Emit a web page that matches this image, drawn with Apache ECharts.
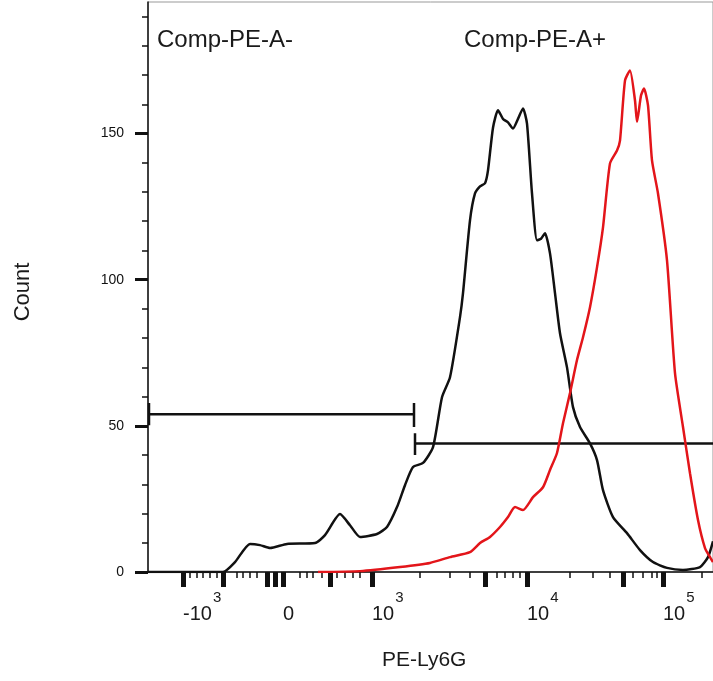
<!DOCTYPE html>
<html>
<head>
<meta charset="utf-8">
<script src="https://cdn.jsdelivr.net/npm/echarts@6/dist/echarts.min.js"></script>
<style>
  html, body { margin: 0; padding: 0; background: #fff; }
  #chart { width: 713px; height: 681px; }
</style>
</head>
<body>
<div id="chart"></div>
<script>
  // histogram, x in display channels of the biexponential PE axis, y = count
  const blackX = [0, 52, 75, 87, 102, 112, 122, 139, 167, 177, 192, 202, 212, 229, 239, 249, 257, 265, 275, 285,
    294, 302, 312, 315, 322, 327, 332, 337, 340, 345, 350, 355, 360, 365, 370, 375, 379, 384, 389, 393, 397, 402,
    407, 412, 419, 425, 432, 442, 449, 455, 465, 479, 492, 505, 519, 535, 552, 560, 565];
  const blackY = [0, 0, 0, 3.4, 9.6, 9.2, 8.2, 9.6, 9.9, 12.6, 19.8, 16, 12, 13, 15.4, 22.2, 29.7, 35.9, 37.3, 42.7,
    59.8, 66.6, 87.2, 95.4, 120.3, 129.5, 131.9, 133, 137.4, 152, 158, 155, 153.8, 151.7, 155, 158.6, 153.4, 129.5,
    113.5, 114, 115.9, 109, 95.4, 81.7, 70, 56.4, 49.6, 44, 38.3, 28, 18.8, 13.3, 7.5, 3.4, 1.4, 0.7, 1.7, 5.1, 10.5];

  const redX = [170, 212, 252, 282, 302, 322, 332, 342, 352, 360, 367, 375, 385, 395, 402, 409, 415, 422, 429, 435,
    442, 449, 455, 462, 469, 472, 477, 482, 487, 489, 493, 496, 500, 504, 510, 519, 527, 535, 542, 550, 557, 562, 565];
  const redY = [0, 0.3, 1.7, 3.1, 5.1, 6.8, 9.9, 12, 15.4, 18.8, 22.2, 21.2, 25.6, 29, 34.9, 40.7, 50.9, 61.2, 72.5,
    80.3, 90.6, 104.2, 117.9, 139.8, 144.2, 147.6, 168.1, 171.6, 161.3, 154, 163, 165.4, 159.6, 140.8, 129.5, 106.6,
    68, 49.6, 33.8, 17.8, 8.2, 5.1, 3.4];

  // gates: [xStart, xEnd, level]
  const gateNeg = [1, 266, 54];
  const gatePos = [267, 565, 44];

  // x axis ticks (channels)
  const xLabelTicks = [35, 135, 224, 379, 515];
  const xLabelTexts = ['-10|3', '0', '10|3', '10|4', '10|5'];
  const xMajorTicks = [35, 75, 119, 127, 135, 182, 224, 337, 379, 475, 515];
  const xMinorTicks = [42, 49, 55, 62, 69, 89, 95, 102, 109, 152, 159, 165, 174, 189, 197, 205, 212,
    272, 302, 322, 349, 357, 365, 372, 422, 445, 462, 485, 495, 504, 509, 554];

  // y axis ticks (counts)
  const yMajorTicks = [0, 50, 100, 150];
  const yMinorTicks = [10, 20, 30, 40, 60, 70, 80, 90, 110, 120, 130, 140, 160, 170, 180, 190];

  const pairs = (xs, ys) => xs.map((x, i) => [x, ys[i]]);

  function gateSeries(g, capLeft, capRight) {
    const list = [];
    const seg = (pts) => ({
      type: 'line', data: pts, symbol: 'none', silent: true,
      lineStyle: { color: '#111', width: 2.5 }
    });
    list.push(seg([[g[0], g[2]], [g[1], g[2]]]));
    if (capLeft) list.push(seg([[g[0], capLeft[0]], [g[0], capLeft[1]]]));
    if (capRight) list.push(seg([[g[1], capRight[0]], [g[1], capRight[1]]]));
    return list;
  }

  const chart = echarts.init(document.getElementById('chart'));

  const baseX = {
    type: 'value',
    min: 0,
    max: 565,
    position: 'bottom',
    splitLine: { show: false }
  };
  const baseY = {
    type: 'value',
    min: 0,
    max: 195,
    position: 'left',
    splitLine: { show: false }
  };

  chart.setOption({
    animation: false,
    backgroundColor: '#fff',

    grid: {
      left: 148,
      top: 2,
      right: 0,
      bottom: 109,
      show: true,
      borderColor: '#999',
      borderWidth: 1
    },

    graphic: [{
      type: 'text', left: 157, top: 28,
      style: { text: 'Comp-PE-A-', fontSize: 24, fontFamily: 'Liberation Sans', fill: '#1a1a1a' }
    }, {
      type: 'text', left: 464, top: 28,
      style: { text: 'Comp-PE-A+', fontSize: 24, fontFamily: 'Liberation Sans', fill: '#1a1a1a' }
    }, {
      type: 'text', left: 382, top: 650,
      style: { text: 'PE-Ly6G', fontSize: 21, fontFamily: 'Liberation Sans', fill: '#1a1a1a' }
    }],

    xAxis: [Object.assign({}, baseX, {
      axisLine: { lineStyle: { color: '#111', width: 1.5 } },
      axisTick: { customValues: xMajorTicks, length: 15, lineStyle: { color: '#111', width: 5 } },
      axisLabel: {
        customValues: xLabelTicks,
        align: 'left',
        margin: 18,
        formatter: (v) => {
          const t = xLabelTexts[xLabelTicks.indexOf(v)] || '';
          const p = t.split('|');
          return p.length > 1 ? '{b|' + p[0] + '}{s|' + p[1] + '}' : '{b|' + p[0] + '}';
        },
        rich: {
          b: { fontSize: 20, lineHeight: 48, verticalAlign: 'middle',
            fontFamily: 'Liberation Sans', color: '#1a1a1a' },
          s: { fontSize: 15, lineHeight: 15, verticalAlign: 'top', padding: [0, 0, 0, 1],
            fontFamily: 'Liberation Sans', color: '#1a1a1a' }
        }
      }
    }), Object.assign({}, baseX, {
      axisLine: { show: false },
      axisTick: { customValues: xMinorTicks, length: 6, lineStyle: { color: '#111', width: 1.5 } },
      axisLabel: { show: false }
    })],

    yAxis: [Object.assign({}, baseY, {
      name: 'Count',
      nameLocation: 'middle',
      nameGap: 114,
      nameRotate: 90,
      nameTextStyle: { fontSize: 22, fontFamily: 'Liberation Sans', color: '#1a1a1a', padding: [0, 10, 0, 0] },
      axisLine: { show: true, lineStyle: { color: '#111', width: 1.5 } },
      axisTick: { customValues: yMajorTicks, length: 13, lineStyle: { color: '#111', width: 3 } },
      axisLabel: {
        customValues: yMajorTicks,
        margin: 24,
        fontSize: 14,
        fontFamily: 'Liberation Sans',
        color: '#111'
      }
    }), Object.assign({}, baseY, {
      axisLine: { show: false },
      axisTick: { customValues: yMinorTicks, length: 6, lineStyle: { color: '#111', width: 1.5 } },
      axisLabel: { show: false }
    })],

    series: [{
      name: 'unstained',
      type: 'line',
      data: pairs(blackX, blackY),
      symbol: 'none',
      smooth: 0.2,
      z: 3,
      lineStyle: { color: '#111', width: 2.5 }
    }, {
      name: 'Ly6G',
      type: 'line',
      data: pairs(redX, redY),
      symbol: 'none',
      smooth: 0.2,
      z: 4,
      lineStyle: { color: '#e3151a', width: 2.5 }
    }]
      .concat(gateSeries(gateNeg, [50.2, 57.8], [49.6, 57.8]))
      .concat(gateSeries(gatePos, [40, 47.5], null))
  });
</script>
</body>
</html>
